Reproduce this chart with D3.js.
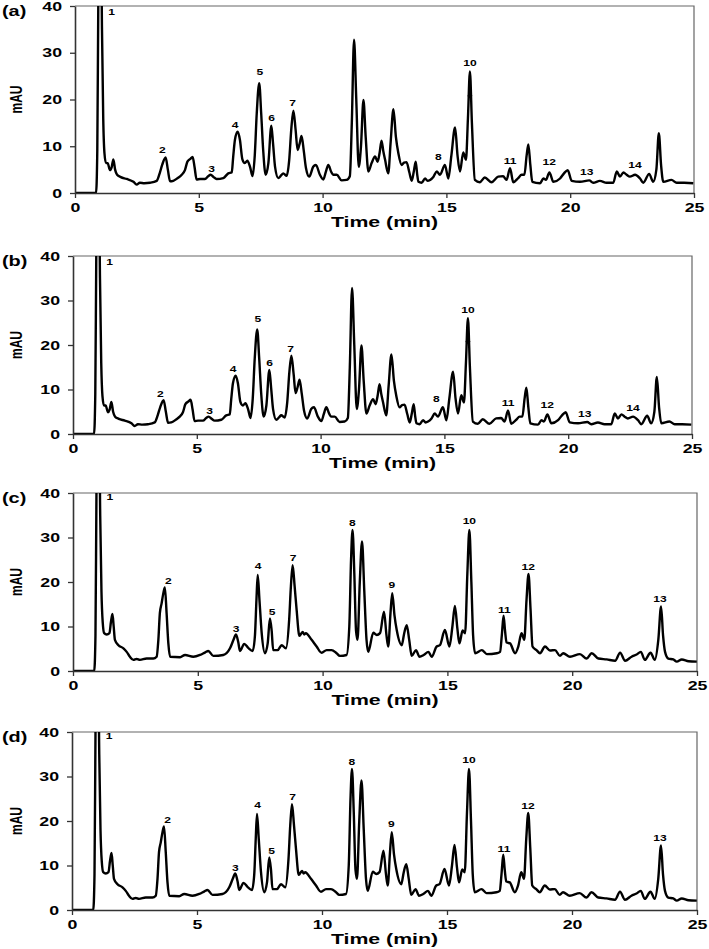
<!DOCTYPE html>
<html>
<head>
<meta charset="utf-8">
<script src="https://cdn.jsdelivr.net/npm/d3@7"></script>
<style>
  html, body { margin: 0; padding: 0; background: #fff; }
  svg { display: block; }
  text { font-family: "Liberation Sans", Arial, sans-serif; fill: #000; }
</style>
</head>
<body>
<svg id="chart" width="709" height="949"></svg>
<script>
// ---------------- data ----------------
const xTicks = [0, 5, 10, 15, 20, 25];
const yTicks = [0, 10, 20, 30, 40];
const panelNames = ["(a)", "(b)", "(c)", "(d)"];
const xLabel = "Time (min)";
const yLabel = "mAU";

// chromatogram shown in panels (a) and (b)
const timeAB = [0, 0.85, 0.90, 0.94, 0.98, 1.04, 1.09, 1.14, 1.19, 1.25, 1.32, 1.41, 1.48, 1.55, 1.62, 1.70, 1.85, 2.09, 2.36, 2.49, 2.62, 2.80, 3.03, 3.30, 3.42, 3.52, 3.66, 3.75, 3.84, 3.97, 4.15, 4.31, 4.44, 4.54, 4.66, 4.75, 4.83, 4.91, 5.05, 5.25, 5.38, 5.48, 5.60, 5.72, 5.99, 6.19, 6.33, 6.39, 6.46, 6.57, 6.66, 6.76, 6.86, 6.96, 7.07, 7.17, 7.26, 7.34, 7.44, 7.52, 7.60, 7.70, 7.81, 7.93, 8.00, 8.08, 8.21, 8.33, 8.41, 8.55, 8.65, 8.74, 8.82, 8.91, 8.99, 9.07, 9.15, 9.24, 9.33, 9.46, 9.62, 9.73, 9.89, 10.03, 10.13, 10.23, 10.35, 10.43, 10.57, 10.77, 10.97, 11.10, 11.18, 11.27, 11.36, 11.46, 11.55, 11.65, 11.74, 11.85, 11.98, 12.12, 12.22, 12.30, 12.38, 12.45, 12.52, 12.65, 12.75, 12.86, 12.96, 13.06, 13.19, 13.29, 13.39, 13.50, 13.60, 13.68, 13.76, 13.82, 13.87, 14.00, 14.14, 14.24, 14.34, 14.48, 14.61, 14.74, 14.94, 15.08, 15.20, 15.35, 15.45, 15.55, 15.68, 15.79, 15.87, 15.95, 16.03, 16.15, 16.35, 16.55, 16.82, 17.09, 17.29, 17.43, 17.57, 17.70, 17.90, 18.04, 18.15, 18.24, 18.31, 18.39, 18.47, 18.78, 18.92, 19.02, 19.16, 19.32, 19.59, 19.75, 19.90, 20.06, 20.40, 20.77, 20.93, 21.20, 21.47, 21.74, 21.88, 22.01, 22.15, 22.28, 22.41, 22.62, 22.82, 22.95, 23.19, 23.35, 23.48, 23.58, 23.67, 23.76, 24.09, 24.30, 24.60, 24.97];
const signalAB = [0, 0, 9, 40, 60, 60, 35, 16, 8.5, 6.4, 6.4, 4.9, 5.5, 7.2, 5.0, 3.9, 3.4, 3.0, 2.4, 1.8, 2.2, 2.1, 2.2, 2.6, 4.2, 6.0, 7.6, 5.0, 2.5, 2.6, 3.2, 3.9, 4.9, 6.7, 7.3, 7.7, 5.5, 2.9, 3.0, 3.0, 3.6, 3.9, 3.4, 3.0, 3.2, 4.2, 4.4, 7.8, 11.4, 13.1, 11.4, 7.2, 6.4, 6.9, 5.6, 3.6, 8.0, 17.0, 23.5, 17.0, 9.2, 3.9, 6.4, 14.4, 10.5, 5.6, 3.2, 3.8, 4.2, 3.7, 7.0, 14.0, 17.6, 13.5, 9.2, 10.5, 12.2, 9.0, 5.3, 3.5, 5.6, 6.0, 3.9, 2.9, 4.5, 6.0, 4.5, 3.9, 3.9, 2.7, 2.8, 3.6, 15.0, 32.8, 20.0, 5.6, 10.0, 19.9, 12.0, 4.6, 6.4, 7.8, 6.7, 8.5, 11.2, 9.0, 7.2, 4.2, 11.0, 17.9, 12.0, 8.5, 6.0, 6.5, 6.6, 4.5, 2.6, 4.5, 6.7, 4.0, 2.4, 2.2, 3.1, 2.6, 2.8, 3.5, 4.6, 3.9, 6.0, 3.1, 8.0, 14.0, 8.0, 4.6, 8.7, 7.1, 16.0, 26.0, 15.0, 2.8, 2.3, 3.3, 2.3, 3.5, 3.6, 2.8, 5.3, 2.3, 3.2, 3.9, 3.9, 8.0, 10.4, 6.0, 2.4, 2.1, 3.1, 2.8, 4.4, 2.4, 3.1, 4.2, 4.9, 2.6, 2.4, 2.7, 2.2, 2.6, 2.2, 2.2, 4.6, 3.5, 4.4, 3.9, 3.5, 3.9, 3.1, 2.2, 4.1, 2.4, 5.0, 12.8, 6.0, 2.4, 2.8, 2.2, 2.2, 2.1];
const peakNamesAB = ["1", "2", "3", "4", "5", "6", "7", "8", "10", "11", "12", "13", "14"];
const peakTimesAB = [1.48, 3.53, 5.52, 6.47, 7.47, 7.94, 8.79, 14.67, 15.95, 17.57, 19.15, 20.67, 22.62];
const peakLevelsAB = [38.7, 9.1, 5.1, 14.6, 25.9, 16.0, 19.2, 7.8, 27.9, 6.9, 6.6, 4.4, 5.9];
const dotTimesAB = [15.95];
const dotLevelsAB = [20.8];

// chromatogram shown in panels (c) and (d)
const timeCD = [0, 0.85, 0.90, 0.94, 0.98, 1.04, 1.09, 1.14, 1.19, 1.25, 1.35, 1.46, 1.52, 1.58, 1.63, 1.68, 1.82, 2.02, 2.15, 2.28, 2.42, 2.55, 2.68, 2.95, 3.22, 3.35, 3.42, 3.48, 3.55, 3.62, 3.68, 3.75, 3.82, 3.89, 4.29, 4.49, 4.82, 5.09, 5.30, 5.42, 5.62, 6.02, 6.29, 6.43, 6.53, 6.62, 6.69, 6.86, 7.02, 7.20, 7.29, 7.35, 7.40, 7.47, 7.56, 7.69, 7.80, 7.89, 7.96, 8.02, 8.20, 8.36, 8.53, 8.66, 8.73, 8.80, 8.88, 8.96, 9.07, 9.20, 9.27, 9.33, 9.56, 9.76, 9.96, 10.16, 10.36, 10.56, 10.69, 10.96, 11.07, 11.14, 11.20, 11.27, 11.34, 11.40, 11.49, 11.58, 11.67, 11.76, 11.83, 12.03, 12.17, 12.30, 12.46, 12.56, 12.63, 12.72, 12.79, 12.88, 12.97, 13.17, 13.27, 13.37, 13.47, 13.57, 13.74, 13.88, 14.05, 14.24, 14.37, 14.57, 14.70, 14.90, 15.08, 15.20, 15.30, 15.40, 15.48, 15.61, 15.71, 15.80, 15.88, 15.96, 16.03, 16.11, 16.38, 16.58, 16.98, 17.11, 17.18, 17.25, 17.31, 17.37, 17.51, 17.71, 17.84, 17.97, 18.08, 18.17, 18.25, 18.33, 18.41, 18.57, 18.71, 18.91, 19.11, 19.31, 19.51, 19.64, 19.91, 20.31, 20.58, 20.78, 21.05, 21.38, 21.72, 21.92, 22.12, 22.38, 22.58, 22.75, 22.91, 23.14, 23.31, 23.45, 23.56, 23.64, 23.72, 23.85, 24.05, 24.19, 24.39, 24.66, 24.99];
const signalCD = [0, 0, 8, 40, 60, 60, 35, 18, 11, 8.5, 8.2, 8.5, 11.0, 12.8, 10.0, 7.0, 5.8, 5.1, 4.3, 3.2, 2.5, 2.7, 2.5, 2.8, 2.8, 3.2, 7.0, 13.0, 15.2, 17.5, 18.8, 13.0, 6.2, 3.2, 3.1, 3.6, 3.2, 3.6, 4.2, 4.5, 3.4, 3.6, 5.1, 7.0, 8.2, 6.5, 4.5, 6.1, 5.2, 4.5, 8.0, 16.0, 21.6, 16.0, 8.5, 4.0, 6.2, 11.8, 9.0, 4.7, 4.7, 5.8, 5.1, 11.5, 19.0, 23.8, 19.0, 13.7, 7.9, 8.8, 8.2, 8.5, 7.0, 5.5, 4.1, 4.7, 4.7, 4.0, 3.4, 3.6, 10.0, 25.0, 31.7, 22.0, 9.0, 7.0, 20.0, 29.1, 18.0, 7.0, 4.3, 8.6, 8.1, 8.5, 13.3, 8.0, 5.5, 13.0, 17.5, 12.5, 9.2, 5.8, 8.5, 10.3, 7.0, 3.4, 4.7, 3.2, 3.6, 4.3, 3.2, 5.5, 5.8, 9.2, 5.5, 10.0, 14.6, 9.5, 6.2, 9.1, 8.5, 22.0, 31.7, 20.0, 8.0, 4.0, 4.7, 3.8, 4.0, 4.3, 8.0, 12.4, 9.0, 6.4, 6.2, 4.0, 5.5, 8.5, 7.0, 16.0, 21.8, 14.0, 5.5, 4.7, 4.0, 5.5, 4.6, 4.7, 3.4, 4.0, 3.2, 3.8, 2.8, 4.0, 2.8, 2.6, 2.3, 4.1, 2.3, 3.2, 3.7, 4.3, 2.5, 4.1, 2.5, 7.0, 14.5, 8.0, 4.3, 2.8, 2.6, 2.1, 2.6, 2.2, 2.1];
const peakNamesCD = ["1", "2", "3", "4", "5", "7", "8", "9", "10", "11", "12", "13"];
const peakTimesCD = [1.48, 3.82, 6.53, 7.42, 7.98, 8.82, 11.19, 12.77, 15.88, 17.28, 18.24, 23.52];
const peakLevelsCD = [39.0, 20.2, 9.4, 23.7, 13.3, 25.5, 33.2, 19.3, 33.6, 13.7, 23.4, 16.2];

// ---------------- layout ----------------
const SX = 1.42; // horizontal stretch of the original figure's lettering
const panels = [
  { name: panelNames[0], left: 75, right: 694, top: 6,   bottom: 193, set: "AB" },
  { name: panelNames[1], left: 73, right: 692, top: 256, bottom: 434, set: "AB" },
  { name: panelNames[2], left: 73, right: 697, top: 493, bottom: 671, set: "CD" },
  { name: panelNames[3], left: 72, right: 697, top: 732, bottom: 910, set: "CD" }
];

const sets = {
  AB: {
    pts: timeAB.map((t, i) => [t, signalAB[i]]),
    labels: peakNamesAB.map((n, i) => ({ n, t: peakTimesAB[i], v: peakLevelsAB[i] })),
    dots: dotTimesAB.map((t, i) => ({ t, v: dotLevelsAB[i] }))
  },
  CD: {
    pts: timeCD.map((t, i) => [t, signalCD[i]]),
    labels: peakNamesCD.map((n, i) => ({ n, t: peakTimesCD[i], v: peakLevelsCD[i] })),
    dots: []
  }
};

const svg = d3.select("#chart");

function stretchedText(parent, x, y, str, size, anchor, weight, rotate, fill) {
  return parent.append("text")
    .attr("transform", `translate(${x},${y}) scale(${SX},1)` + (rotate ? ` rotate(${rotate})` : ""))
    .attr("text-anchor", anchor)
    .attr("font-size", size)
    .attr("font-weight", weight)
    .attr("fill", fill || "#000")
    .text(str);
}

panels.forEach((p, pi) => {
  const data = sets[p.set];
  const x = d3.scaleLinear().domain([0, 25]).range([p.left, p.right]);
  const y = d3.scaleLinear().domain([0, 40]).range([p.bottom, p.top]);
  const g = svg.append("g");

  const clipId = "clip" + pi;
  svg.append("clipPath").attr("id", clipId)
    .append("rect")
    .attr("x", p.left).attr("y", p.top)
    .attr("width", p.right - p.left).attr("height", p.bottom - p.top);

  // frame (top & right)
  g.append("path")
    .attr("d", `M${p.left},${p.top}H${p.right}V${p.bottom}`)
    .attr("fill", "none").attr("stroke", "#666").attr("stroke-width", 1.2);

  // trace
  const line = d3.line().x(d => x(d[0])).y(d => y(d[1])).curve(d3.curveMonotoneX);
  g.append("path")
    .datum(data.pts)
    .attr("clip-path", `url(#${clipId})`)
    .attr("d", line)
    .attr("fill", "none")
    .attr("stroke", "#000")
    .attr("stroke-width", 2.4)
    .attr("stroke-linejoin", "round");

  data.dots.forEach(d => {
    g.append("circle").attr("cx", x(d.t)).attr("cy", y(d.v)).attr("r", 2.3).attr("fill", "#000");
  });

  // axes
  const xa = g.append("g").attr("transform", `translate(0,${p.bottom})`)
    .call(d3.axisBottom(x).tickValues(xTicks).tickSize(5).tickSizeOuter(0).tickPadding(5));
  const ya = g.append("g").attr("transform", `translate(${p.left},0)`)
    .call(d3.axisLeft(y).tickValues(yTicks).tickSize(5).tickSizeOuter(0).tickPadding(8));
  [xa, ya].forEach(a => {
    a.select(".domain").attr("stroke", "#333").attr("stroke-width", 1.6);
    a.selectAll(".tick line").attr("stroke", "#333").attr("stroke-width", 1.3);
    a.selectAll("text")
      .attr("font-family", "Liberation Sans, Arial, sans-serif")
      .attr("font-size", 12.5)
      .attr("font-weight", "bold")
      .attr("fill", "#1a1a1a");
  });
  xa.selectAll("text").attr("transform", `scale(${SX},1)`);
  ya.selectAll("text").attr("transform", `scale(${SX},1)`).attr("x", -13 / SX);

  // axis titles
  stretchedText(g, (p.left + p.right) / 2, p.bottom + 34, xLabel, 15, "middle", "bold", null, "#111");
  stretchedText(g, 22, (p.top + p.bottom) / 2, yLabel, 12, "middle", "bold", -90, "#111");

  // panel letter
  stretchedText(g, 2, p.top + 10, p.name, 14, "start", "bold");

  // peak labels
  data.labels.forEach(l => {
    stretchedText(g, x(l.t), y(l.v) + 3, l.n, 8.5, "middle", "bold", null, "#222");
  });
});
</script>
</body>
</html>
